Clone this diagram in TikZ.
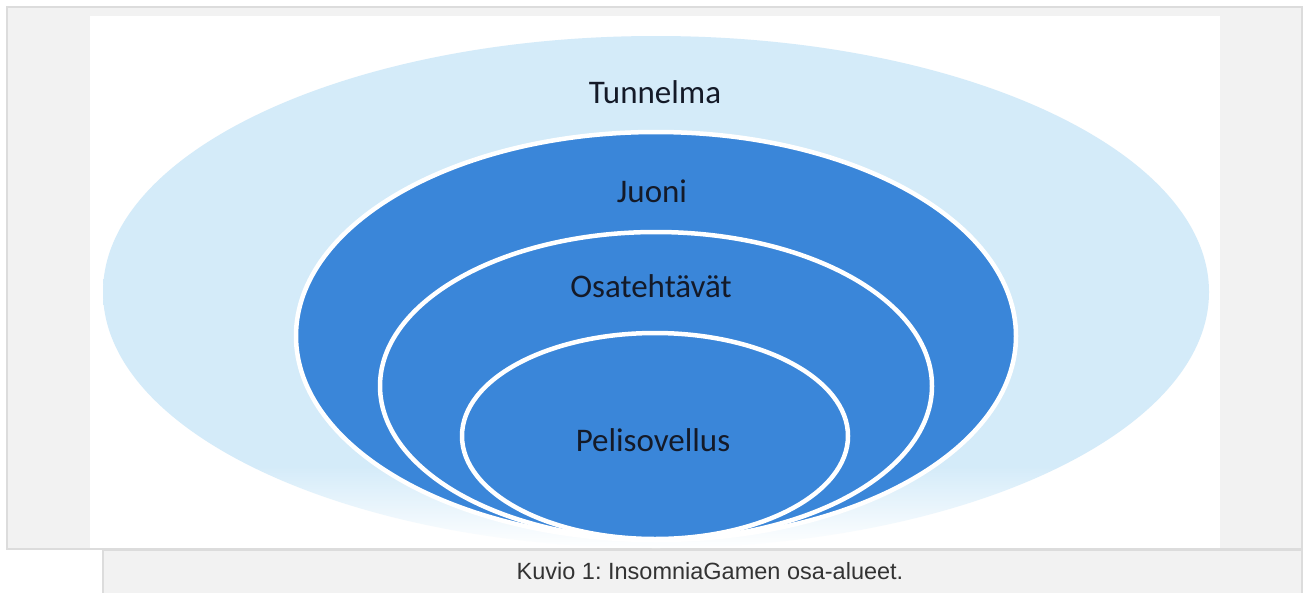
\documentclass[tikz,border=0pt]{standalone}
\usepackage{fontspec}
\setmainfont{Carlito}
\newfontfamily\capfont{Liberation Sans}
\usetikzlibrary{shapes.geometric}
\definecolor{pagegray}{HTML}{F2F2F2}
\definecolor{framegray}{HTML}{DCDCDC}
\definecolor{tunblue}{HTML}{D4EBF9}
\definecolor{deepblue}{HTML}{3A86D9}
\definecolor{labelink}{HTML}{141A28}
\definecolor{capink}{HTML}{333333}
\pgfdeclareverticalshading{tunshade}{100bp}{color(0bp)=(white); color(25bp)=(white); color(33bp)=(tunblue); color(100bp)=(tunblue)}
\tikzset{
  ring/.style={ellipse, inner sep=0pt, fill=deepblue, draw=white, line width=4.5pt},
  ringlabel/.style={font=\fontsize{33}{36}\selectfont, text=labelink, inner sep=0pt},
}
\frenchspacing
\begin{document}
\begin{tikzpicture}[x=1pt,y=-1pt]
\useasboundingbox (0,0) rectangle (1304,592);
% frames
\draw[fill=pagegray, draw=framegray, line width=2.5pt] (7,7) rectangle (1302,549);
\fill[white] (90,16) rectangle (1220,548);
\draw[fill=pagegray, draw=framegray, line width=2.5pt] (103,550) rectangle (1302,600);
% ellipses
\node[ellipse, inner sep=0pt, minimum width=1106pt, minimum height=512pt, shading=tunshade] (tun) at (656,292) {};
\node[ring, minimum width=720pt, minimum height=408pt] (juo) at (656,336) {};
\node[ring, minimum width=552pt, minimum height=308pt] (osa) at (656,386) {};
\node[ring, minimum width=386pt, minimum height=206pt] (pel) at (655,436) {};
% labels
\node[ringlabel] (tunl) at (655,92) {Tunnelma};
\node[ringlabel] (juol) at (652,191) {Juoni};
\node[ringlabel] (osal) at (651,286) {Osatehtävät};
\node[ringlabel] (pell) at (653,440) {Pelisovellus};
% caption
\node[font=\capfont\fontsize{23.5}{26}\selectfont, text=capink, inner sep=0pt] (cap) at (710,571) {Kuvio 1: InsomniaGamen osa-alueet.};
\end{tikzpicture}
\end{document}
